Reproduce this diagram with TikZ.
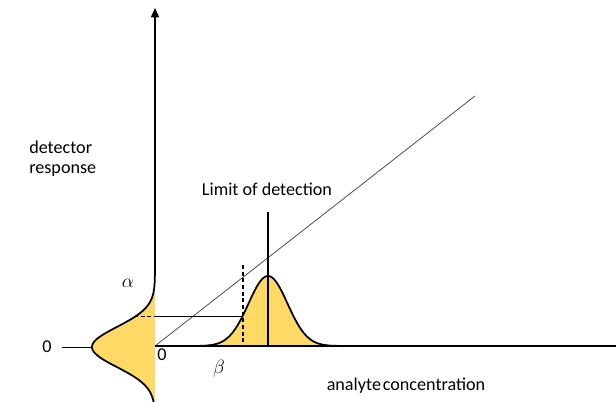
\documentclass[tikz,border=0pt]{standalone}
\usepackage{fontspec}
\setmainfont{Carlito}
\usetikzlibrary{arrows.meta}
\definecolor{gold}{RGB}{255,217,102}
\tikzset{
  axis/.style={line width=1.1pt,black},
  curve/.style={line width=1.3pt,black,line join=round},
  thin/.style={line width=0.75pt,black},
  diag/.style={line width=0.6pt,black!70},
  dashline/.style={line width=0.9pt,black,dash pattern=on 3pt off 2pt},
  lbl/.style={font=\fontsize{13.6}{16}\selectfont,inner sep=0pt},
  glbl/.style={font=\fontsize{15}{17}\selectfont,inner sep=0pt}
}
\begin{document}
\begin{tikzpicture}[x=0.75pt,y=-0.75pt]
\useasboundingbox (0,0) rectangle (616,402);
% coordinates
\coordinate (O) at (155,346);
\coordinate (top) at (155,8);
\coordinate (xend) at (616,346);
\coordinate (dtop) at (475,96);
\coordinate (lz1) at (62,347);
\coordinate (lz2) at (92,347);
\coordinate (ha) at (134,316.5);
\coordinate (hb) at (155,316.5);
\coordinate (hc) at (243,316.5);
\coordinate (vd1) at (243,265);
\coordinate (vd2) at (243,346);
\coordinate (lod1) at (268,212);
\coordinate (lod2) at (268,346);
% fills
\fill[gold] (155,250) -- plot[domain=250:414,samples=120,variable=\t] ({155-63*exp(-((\t-347)^2)/800)},\t) -- cycle;
\fill[gold] (180,346) -- plot[domain=180:360,samples=120,variable=\t] (\t,{346-70*exp(-((\t-268)^2)/760)}) -- cycle;
% diagonal
\draw[diag] (O) -- (dtop);
% horizontal axis
\draw[axis] (O) -- (xend);
% vertical axis with arrow
\draw[axis,-{Triangle[width=6pt,length=7pt]}] (155,250) -- (top);
% left gaussian outline
\draw[curve] plot[domain=250:414,samples=120,variable=\t] ({155-63*exp(-((\t-347)^2)/800)},\t);
% right gaussian outline
\draw[curve] plot[domain=200:340,samples=120,variable=\t] (\t,{346-70*exp(-((\t-268)^2)/760)});
% left zero line
\draw[thin] (lz1) -- (lz2);
% horizontal level line
\draw[dashline] (ha) -- (hb);
\draw[thin] (hb) -- (hc);
\draw[dashline] (vd1) -- (vd2);
\draw[line width=1.1pt] (lod1) -- (lod2);
% labels
\node[lbl,anchor=west] (det) at (29,147) {detector};
\node[lbl,anchor=west] (resp) at (29,171) {response};
\node[lbl] (lod) at (267,189) {Limit of detection};
\node[lbl] (conc) at (406,386) {analyte\hspace{0.1em}concentration};
\node[lbl] (z1) at (47,347) {0};
\node[lbl] (z2) at (162,355) {0};
\node[glbl] (al) at (128,283) {$\alpha$};
\node[glbl] (be) at (219,369) {$\beta$};
\end{tikzpicture}
\end{document}
